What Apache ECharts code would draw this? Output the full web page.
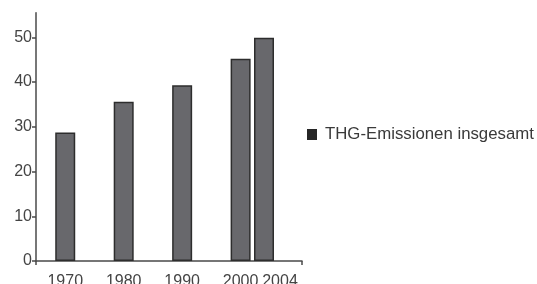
<!DOCTYPE html>
<html>
<head>
<meta charset="utf-8">
<script src="https://cdn.jsdelivr.net/npm/echarts@6/dist/echarts.min.js"></script>
<style>
    html, body { margin: 0; padding: 0; background: #fff; }
    #chart { width: 537px; height: 284px; }
</style>
</head>
<body>
<div id="chart"></div>
<script>
// Daten
var years = [1970, 1980, 1990, 2000, 2004];
var emissions = [28.7, 35.6, 39.3, 45.2, 49.9];
var yTicks = [0, 10, 20, 30, 40, 50];
var seriesName = 'THG-Emissionen insgesamt';

var chart = echarts.init(document.getElementById('chart'));
var font = 'Liberation Sans, Arial, sans-serif';
var xMin = 1965, xMax = 2010.5;
var lastYear = years[years.length - 1];

chart.setOption({
    animation: false,
    grid: { left: 36, right: 235, top: 12.7, bottom: 23, outerBoundsMode: 'none' },
    legend: {
        left: 307,
        top: 126,
        padding: 0,
        itemWidth: 10,
        itemHeight: 11,
        itemGap: 8,
        textStyle: { fontFamily: font, fontSize: 16.8, color: '#3a3a3a', padding: [0, 0, 0, 3] },
        data: [{ name: seriesName, icon: 'rect', itemStyle: { color: '#262626', borderWidth: 0 } }]
    },
    xAxis: {
        type: 'value',
        min: xMin,
        max: xMax,
        splitLine: { show: false },
        axisLine: { show: true, lineStyle: { color: '#4a4a4a', width: 1.5 } },
        axisTick: { show: true, length: 4, customValues: [xMin, xMax], lineStyle: { color: '#4a4a4a', width: 1.5 } },
        axisLabel: {
            customValues: years,
            hideOverlap: false,
            margin: 13,
            fontFamily: font,
            fontSize: 16,
            color: '#444',
            // letztes Jahr etwas nach rechts, damit es nicht mit 2000 kollidiert
            formatter: function (v) { return v === lastYear ? '{r|' + v + '}' : String(v); },
            rich: { r: { fontFamily: font, fontSize: 16, color: '#444', padding: [0, 0, 0, 32] } }
        }
    },
    yAxis: {
        type: 'value',
        min: 0,
        max: 55.5,
        splitLine: { show: false },
        axisLine: { show: true, lineStyle: { color: '#4a4a4a', width: 1.5 } },
        axisTick: { show: true, length: 4, customValues: yTicks, lineStyle: { color: '#4a4a4a', width: 1.5 } },
        axisLabel: {
            customValues: yTicks,
            margin: 4,
            fontFamily: font,
            fontSize: 16,
            color: '#444'
        }
    },
    series: [{
        name: seriesName,
        type: 'bar',
        barWidth: 20,
        itemStyle: { color: '#68686c', borderColor: '#2d2d2d', borderWidth: 1.5 },
        data: years.map(function (y, i) { return [y, emissions[i]]; })
    }]
});
</script>
</body>
</html>
